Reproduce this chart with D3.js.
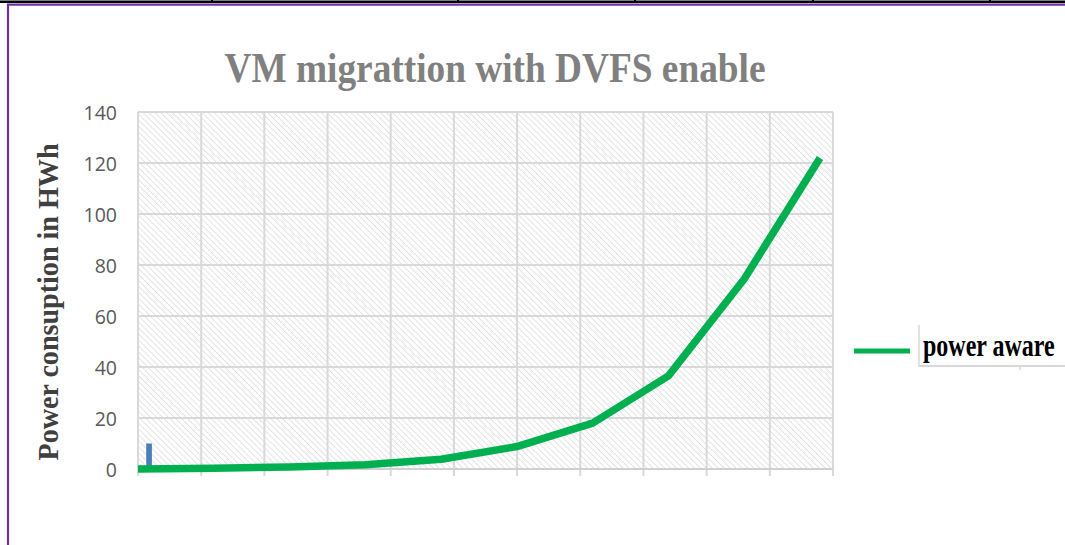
<!DOCTYPE html>
<html><head><meta charset="utf-8">
<script src="https://cdn.jsdelivr.net/npm/d3@7"></script>
<style>html,body{margin:0;padding:0;background:#fff;overflow:hidden}</style>
</head><body>
<script>
// ---- data ----
const categories = ["1","2","3","4","5","6","7","8","9","10"];
const powerAware = [0, 0.3, 0.8, 1.7, 3.8, 8.8, 18, 36.5, 74.5, 122];
const gridCategories = ["1","2","3","4","5","6","7","8","9","10","11"];
const barValues = [10];
const yTicks = [0, 20, 40, 60, 80, 100, 120, 140];
const titleText = "VM migrattion with DVFS enable";
const yTitleText = "Power consuption in HWh";
const legendText = "power aware";

(function(){
const W = 1065, H = 545;
const svg = d3.select("body").append("svg").attr("width", W).attr("height", H);

// page frame
svg.append("line").attr("x1",0).attr("x2",W).attr("y1",1.8).attr("y2",1.8).attr("stroke","#000").attr("stroke-width",2.6);
[212,458,635,813,990].forEach(xx=>svg.append("line").attr("x1",xx).attr("x2",xx).attr("y1",0).attr("y2",3).attr("stroke","#000").attr("stroke-width",2));
svg.append("line").attr("x1",7).attr("x2",W).attr("y1",4.6).attr("y2",4.6).attr("stroke","#7030A0").attr("stroke-width",2.4);
svg.append("line").attr("x1",8).attr("x2",8).attr("y1",4).attr("y2",H).attr("stroke","#7030A0").attr("stroke-width",2.2);

// hatch pattern
const defs = svg.append("defs");
const pat = defs.append("pattern").attr("id","hatch").attr("patternUnits","userSpaceOnUse")
  .attr("width",4.2).attr("height",4.2).attr("patternTransform","rotate(-45)");
pat.append("line").attr("x1",0).attr("x2",0).attr("y1",0).attr("y2",4.2).attr("stroke","#d6d6d6").attr("stroke-width",1.3);

const pL = 138, pR = 833, pT = 112, pB = 469;
const y = d3.scaleLinear().domain([0,140]).range([pB, pT]);
const xg = d3.scaleBand().domain(gridCategories).range([pL, pR]).padding(0);
const x = d3.scalePoint().domain(categories).range([pL, 820]);

svg.append("rect").attr("x",pL).attr("y",pT).attr("width",pR-pL).attr("height",pB-pT).attr("fill","url(#hatch)");

// horizontal gridlines
svg.append("g").selectAll("line").data(yTicks).join("line")
  .attr("x1",pL).attr("x2",pR).attr("y1",d=>y(d)).attr("y2",d=>y(d))
  .attr("stroke","#d9d9d9").attr("stroke-width",2);
// vertical gridlines
const vx = gridCategories.map(c=>xg(c)).concat([pR]);
svg.append("g").selectAll("line").data(vx).join("line")
  .attr("x1",d=>d).attr("x2",d=>d).attr("y1",pT).attr("y2",pB+7)
  .attr("stroke","#d9d9d9").attr("stroke-width",2);
// baseline
svg.append("line").attr("x1",pL).attr("x2",pR).attr("y1",y(0)).attr("y2",y(0)).attr("stroke","#d0d0d0").attr("stroke-width",2);

// y axis labels
const yAxis = d3.axisLeft(y).tickValues(yTicks).tickSize(0).tickPadding(0);
const ga = svg.append("g").attr("transform",`translate(117,0)`).call(yAxis);
ga.select(".domain").remove();
ga.selectAll("text").attr("font-family","'Open Sans', sans-serif").attr("font-size",19.5).attr("fill","#595959").attr("dy","0.36em");

// bar
svg.append("g").selectAll("rect").data(barValues).join("rect")
  .attr("x",(d,i)=>xg(gridCategories[i]) + xg.bandwidth()*0.13)
  .attr("width",xg.bandwidth()*0.09)
  .attr("y",d=>y(d)).attr("height",d=>y(0)-y(d)).attr("fill","#4A7EBB");

// line
const line = d3.line().x((d,i)=>x(categories[i])).y(d=>y(d));
svg.append("path").datum(powerAware).attr("d",line).attr("fill","none")
  .attr("stroke","#00B050").attr("stroke-width",7.5).attr("stroke-linejoin","round");

// title
svg.append("text").attr("x",495).attr("y",82).attr("text-anchor","middle")
  .attr("font-family","'Liberation Serif', serif").attr("font-weight","bold").attr("font-size",42)
  .attr("fill","#808080").attr("textLength",541).attr("lengthAdjust","spacingAndGlyphs").text(titleText);

// y title
svg.append("text").attr("transform","translate(58,302) rotate(-90)").attr("text-anchor","middle")
  .attr("font-family","'Liberation Serif', serif").attr("font-weight","bold").attr("font-size",29)
  .attr("fill","#404040").attr("textLength",317).attr("lengthAdjust","spacingAndGlyphs").text(yTitleText);

// legend
svg.append("line").attr("x1",919).attr("x2",919).attr("y1",325).attr("y2",367).attr("stroke","#d9d9d9").attr("stroke-width",1.5);
svg.append("line").attr("x1",919).attr("x2",W).attr("y1",366).attr("y2",366).attr("stroke","#d9d9d9").attr("stroke-width",2);
svg.append("line").attr("x1",1020).attr("x2",1020).attr("y1",366).attr("y2",370).attr("stroke","#d9d9d9").attr("stroke-width",1.5);
svg.append("line").attr("x1",854).attr("x2",910).attr("y1",351).attr("y2",351).attr("stroke","#00B050").attr("stroke-width",5);
svg.append("text").attr("transform","translate(923,356) scale(1,1.3)")
  .attr("font-family","'Liberation Serif', serif").attr("font-weight","bold").attr("font-size",24)
  .attr("fill","#000").text(legendText);
})();
</script>
</body></html>
